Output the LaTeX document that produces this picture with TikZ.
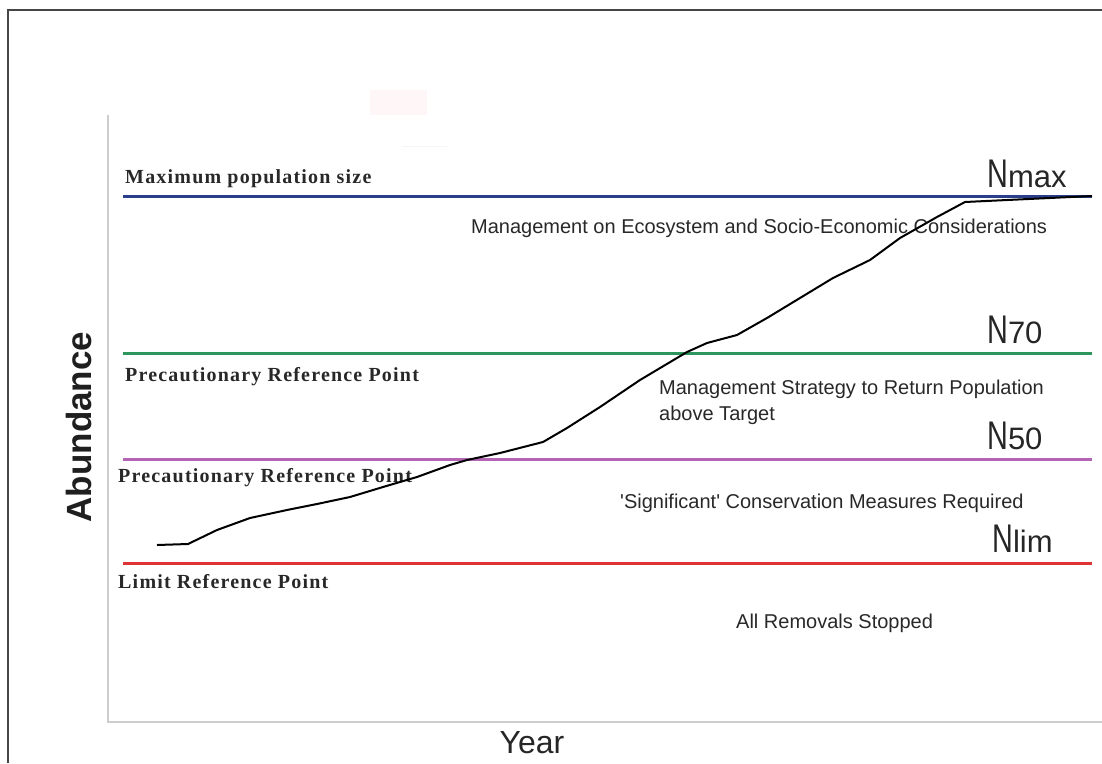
\documentclass[tikz,border=0pt]{standalone}
\usepackage{fontspec}
\setmainfont{Liberation Sans}[Ligatures=TeXOff]
\newfontfamily\lblfont[LetterSpace=6]{Liberation Serif}
\newfontfamily\nfont{Liberation Sans}
\definecolor{navyline}{RGB}{42,62,140}
\definecolor{greenline}{RGB}{44,150,92}
\definecolor{magline}{RGB}{180,100,180}
\definecolor{redline}{RGB}{222,52,52}
\definecolor{framegray}{RGB}{70,70,70}
\definecolor{axisgray}{RGB}{205,205,205}
\definecolor{txtgray}{RGB}{40,40,40}
\tikzset{
  framestyle/.style={draw=framegray, line width=1.6pt},
  axisstyle/.style={draw=axisgray, line width=1.3pt},
  refline/.style={line width=3pt},
  reflabel/.style={anchor=base west, inner sep=0pt, text=txtgray,
    font=\lblfont\bfseries\fontsize{20}{20}\selectfont},
  zonetext/.style={anchor=base west, inner sep=0pt, text=txtgray,
    font=\fontsize{20}{26}\selectfont, align=left},
  nlabel/.style={anchor=base west, inner sep=0pt, text=black!85},
  curvestyle/.style={draw=black, line width=2pt, line join=round}
}
\newcommand{\Nlab}[1]{\nfont\scalebox{0.72}[1]{\fontsize{40}{40}\selectfont N}\fontsize{31}{31}\selectfont #1}
\begin{document}
\begin{tikzpicture}[x=1pt,y=-1pt]
\useasboundingbox (0,0) rectangle (1102,763);
% outer frame (top and left)
\draw[framestyle] (8,763) -- (8,10) -- (1102,10);
% faint artefacts
\fill[red!3] (370,90) rectangle (427,115);
\draw[gray!8, line width=1pt] (402,146) -- (447,146);
% axes
\draw[axisstyle] (108,115) -- (108,722) -- (1102,722);
% reference lines
\coordinate (maxL) at (123,196); \coordinate (maxR) at (1092,196);
\coordinate (p70L) at (123,353); \coordinate (p70R) at (1092,353);
\coordinate (p50L) at (123,459); \coordinate (p50R) at (1092,459);
\coordinate (limL) at (123,563); \coordinate (limR) at (1092,563);
\draw[refline, navyline] (maxL) -- (maxR);
\draw[refline, greenline] (p70L) -- (p70R);
\draw[refline, magline] (p50L) -- (p50R);
\draw[refline, redline] (limL) -- (limR);
% left labels
\node[reflabel] (lmax) at (125,183) {Maximum population size};
\node[reflabel] (l70) at (125,381) {Precautionary Reference Point};
\node[reflabel] (l50) at (118,482) {Precautionary Reference Point};
\node[reflabel] (llim) at (118,588) {Limit Reference Point};
% right labels
\node[nlabel] (nmax) at (987,187) {\Nlab{max}};
\node[nlabel] (n70) at (987,343) {\Nlab{70}};
\node[nlabel] (n50) at (987,449) {\Nlab{50}};
\node[nlabel] (nlim) at (992,552) {\Nlab{lim}};
% zone texts
\node[zonetext] (z1) at (471,233) {Management on Ecosystem and Socio-Economic Considerations};
\node[zonetext] (z2) at (659,420) {Management Strategy to Return Population\\above Target};
\node[zonetext] (z3) at (620,508) {'Significant' Conservation Measures Required};
\node[zonetext] (z4) at (736,628) {All Removals Stopped};
% axis titles
\node[inner sep=0pt, rotate=90, anchor=base, text=black!88,
  font=\bfseries\fontsize{35}{35}\selectfont] (ylab) at (91,427) {Abundance};
\node[inner sep=0pt, anchor=base, text=black!85,
  font=\fontsize{32}{32}\selectfont] (xlab) at (532,753) {Year};
% population curve
\draw[curvestyle] plot coordinates {
 (157,545) (188,544) (217,530) (250,518) (287,510) (317,504) (350,497)
 (383,487) (417,477) (450,465) (467,460) (500,453) (543,442) (567,428)
 (600,407) (640,380) (687,352) (707,343) (737,335) (767,318) (800,298)
 (833,278) (870,260) (900,238) (937,217) (965,202) (1092,196)};
\end{tikzpicture}
\end{document}
